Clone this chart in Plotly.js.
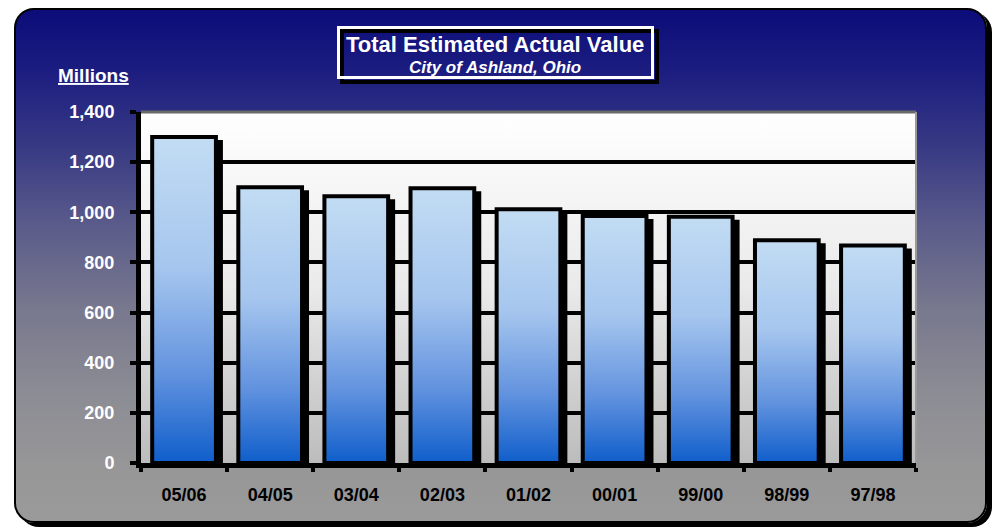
<!DOCTYPE html>
<html>
<head>
<meta charset="utf-8">
<script src="https://cdn.plot.ly/plotly-3.0.1.min.js"></script>
<style>
  html, body { margin: 0; padding: 0; background: #ffffff; }
  #wrap { position: relative; width: 996px; height: 528px; overflow: hidden; }
  #panel {
    position: absolute; left: 14px; top: 8px; width: 969px; height: 511px;
    border: 2px solid #000; border-radius: 20px;
    box-shadow: 5px 4px 0 #000;
    background: linear-gradient(to bottom, #0c0c7a 0%, #1c1d80 12%, #3a3c84 28%, #5a5b8a 42%, #77778e 58%, #8b8b94 74%, #979798 90%, #9a9a9a 100%);
  }
  #chart { position: absolute; left: 0; top: 0; width: 996px; height: 528px; }
</style>
</head>
<body>
<div id="wrap">
  <div id="panel"></div>
  <div id="chart"></div>
</div>
<script>
// ---- data ----
const categories = ['05/06', '04/05', '03/04', '02/03', '01/02', '00/01', '99/00', '98/99', '97/98'];
const values = [1300, 1100, 1064, 1096, 1012, 985, 982, 888, 868];
const yTickVals = [0, 200, 400, 600, 800, 1000, 1200, 1400];
const titleText = 'Total Estimated Actual Value';
const subtitleText = 'City of Ashland, Ohio';
const unitText = 'Millions';

// ---- layout helpers (pixel -> paper) ----
const L = 141, R = 80, T = 112, B = 65, W = 996, H = 528;
const pw = W - L - R, ph = H - T - B;
const px2x = p => (p - L) / pw;
const py2y = p => (H - B - p) / ph;

const barWidth = 0.74;
const catPx = pw / categories.length;
const shadowDx = 5 / catPx;          // 5px right
const shadowDy = 5 * 1400 / ph;      // 5px down in data units

const FONT = '"Liberation Sans", Arial, sans-serif';

const shadowTrace = {
  type: 'bar', x: categories, y: values.map(v => v - shadowDy),
  width: barWidth, offset: -barWidth / 2 + shadowDx,
  marker: { color: '#000000', line: { color: '#000000', width: 4 } },
  hoverinfo: 'skip', showlegend: false
};
const mainTrace = {
  type: 'bar', x: categories, y: values,
  width: barWidth, offset: -barWidth / 2,
  marker: { color: '#7fa8e4', line: { color: '#000000', width: 4 } },
  showlegend: false
};

const layout = {
  width: W, height: H,
  margin: { l: L, r: R, t: T, b: B, pad: 0 },
  paper_bgcolor: 'rgba(0,0,0,0)',
  plot_bgcolor: '#eeeeee',
  barmode: 'overlay',
  showlegend: false,
  font: { family: FONT },
  xaxis: {
    type: 'category',
    showline: true, linecolor: '#000', linewidth: 5,
    showgrid: false, zeroline: false,
    ticks: 'outside', tickson: 'boundaries', ticklen: 4, tickwidth: 4, tickcolor: '#000',
    tickfont: { family: FONT, size: 18, color: '#000', weight: 'bold' },
    ticklabelstandoff: 11,
    fixedrange: true
  },
  yaxis: {
    range: [0, 1400],
    tickvals: yTickVals, tickformat: ',d',
    showline: true, linecolor: '#000', linewidth: 5,
    showgrid: true, gridcolor: '#000', gridwidth: 4,
    zeroline: false,
    ticks: 'outside', ticklen: 6, tickwidth: 4, tickcolor: '#000',
    tickfont: { family: FONT, size: 18, color: '#ffffff', weight: 'bold' },
    ticklabelstandoff: 12,
    fixedrange: true
  },
  shapes: [
    { type: 'line', xref: 'paper', yref: 'paper', x0: 0, x1: 1, y0: 1, y1: 1, line: { color: '#6a6a6a', width: 3 }, layer: 'above' },
    { type: 'line', xref: 'paper', yref: 'paper', x0: 1, x1: 1, y0: 0, y1: 1, line: { color: '#9a9a9a', width: 2 }, layer: 'above' },
    { type: 'rect', xref: 'paper', yref: 'paper',
      x0: px2x(342), x1: px2x(657), y0: py2y(31), y1: py2y(82),
      line: { color: '#000', width: 4 }, fillcolor: 'rgba(0,0,0,0)', layer: 'above' },
    { type: 'rect', xref: 'paper', yref: 'paper',
      x0: px2x(338.5), x1: px2x(652.5), y0: py2y(27.5), y1: py2y(77.5),
      line: { color: '#ffffff', width: 3 }, fillcolor: 'rgba(0,0,0,0)', layer: 'above' }
  ],
  annotations: [
    { xref: 'paper', yref: 'paper', x: px2x(495), y: py2y(44), xanchor: 'center', yanchor: 'middle',
      text: '<b>' + titleText + '</b>', showarrow: false,
      font: { family: FONT, size: 22, color: '#ffffff' } },
    { xref: 'paper', yref: 'paper', x: px2x(495), y: py2y(67.5), xanchor: 'center', yanchor: 'middle',
      text: '<b><i>' + subtitleText + '</i></b>', showarrow: false,
      font: { family: FONT, size: 17, color: '#ffffff' } },
    { xref: 'paper', yref: 'paper', x: px2x(93), y: py2y(76), xanchor: 'center', yanchor: 'middle',
      text: '<b><u>' + unitText + '</u></b>', showarrow: false,
      font: { family: FONT, size: 19, color: '#ffffff' } }
  ]
};

const gd = document.getElementById('chart');
Plotly.newPlot(gd, [shadowTrace, mainTrace], layout, { staticPlot: true, displayModeBar: false }).then(() => {
  const NS = 'http://www.w3.org/2000/svg';
  const svg = gd.querySelector('svg.main-svg');
  let defs = svg.querySelector('defs');
  if (!defs) { defs = document.createElementNS(NS, 'defs'); svg.insertBefore(defs, svg.firstChild); }
  function grad(id, stops) {
    const g = document.createElementNS(NS, 'linearGradient');
    g.setAttribute('id', id);
    g.setAttribute('x1', '0'); g.setAttribute('y1', '0');
    g.setAttribute('x2', '0'); g.setAttribute('y2', '1');
    stops.forEach(([o, c]) => {
      const s = document.createElementNS(NS, 'stop');
      s.setAttribute('offset', o); s.setAttribute('stop-color', c);
      g.appendChild(s);
    });
    defs.appendChild(g);
  }
  grad('barGrad', [['0', '#c2dcf3'], ['0.4', '#a6c6ee'], ['0.72', '#6494df'], ['1', '#0f5ecb']]);
  grad('bgGrad', [['0', '#ffffff'], ['0.5', '#eaeaea'], ['1', '#bcbcbc']]);
  const traces = gd.querySelectorAll('.barlayer .trace');
  if (traces.length > 1) {
    traces[1].querySelectorAll('path').forEach(p => { p.style.fill = 'url(#barGrad)'; });
  }
  const bg = gd.querySelector('.bglayer rect.bg');
  if (bg) bg.style.fill = 'url(#bgGrad)';
});
</script>
</body>
</html>
